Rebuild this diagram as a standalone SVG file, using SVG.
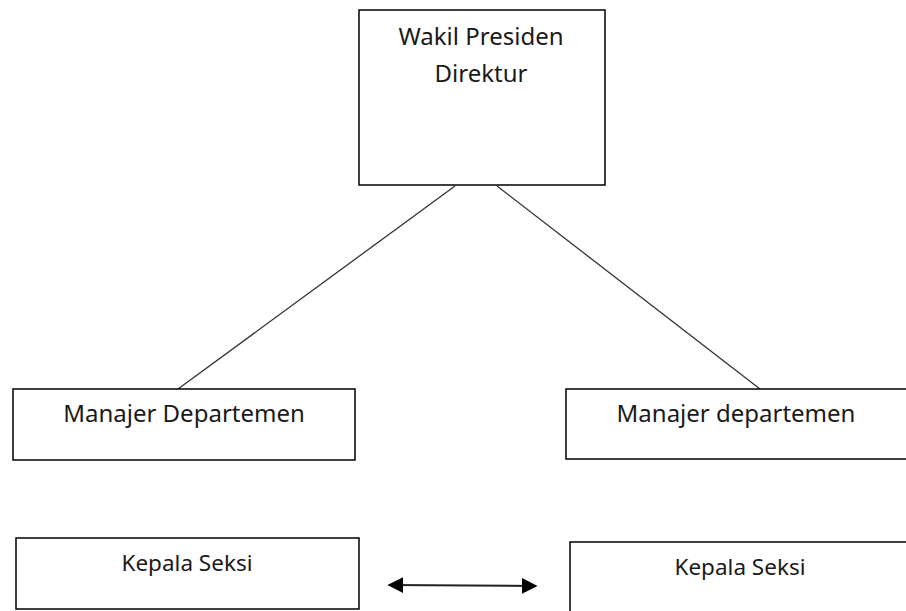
<svg xmlns="http://www.w3.org/2000/svg" width="906" height="611" viewBox="0 0 906 611">
  <defs>
    <style>
      .box { fill: #ffffff; stroke: #000000; stroke-width: 1.5; }
      .link { stroke: #333333; stroke-width: 1.3; fill: none; }
      .link.both { stroke: #222222; stroke-width: 2; }
      .lbl { font-family: "Noto Sans", "Open Sans", sans-serif; font-size: 24px; fill: #1a1a1a; text-anchor: middle; }
      .lbl-s { font-size: 22.5px; }
    </style>
    <marker id="head" viewBox="0 0 10 10" refX="9" refY="5" markerWidth="16" markerHeight="17" markerUnits="userSpaceOnUse" orient="auto-start-reverse">
      <path d="M0,0 L10,5 L0,10 Z" fill="#000000"/>
    </marker>
  </defs>

  <rect width="906" height="611" fill="#ffffff"/>

  <!-- connectors -->
  <g id="connectors">
    <line class="link" x1="455" y1="186" x2="178" y2="389"/>
    <line class="link" x1="497" y1="186" x2="760" y2="389"/>
    <line class="link both" x1="389" y1="585" x2="536" y2="586" marker-start="url(#head)" marker-end="url(#head)"/>
  </g>

  <g id="wakil-presiden">
    <rect class="box" x="359" y="10" width="246" height="175"/>
    <text class="lbl" x="481" y="45">Wakil Presiden</text>
    <text class="lbl" x="481" y="82">Direktur</text>
  </g>

  <g id="manajer-kiri">
    <rect class="box" x="13" y="389" width="342" height="71"/>
    <text class="lbl" x="184" y="422">Manajer Departemen</text>
  </g>

  <g id="manajer-kanan">
    <rect class="box" x="566" y="389" width="342" height="70"/>
    <text class="lbl" x="736" y="422">Manajer departemen</text>
  </g>

  <g id="kepala-kiri">
    <rect class="box" x="16" y="538" width="343" height="71"/>
    <text class="lbl lbl-s" x="187" y="571">Kepala Seksi</text>
  </g>

  <g id="kepala-kanan">
    <rect class="box" x="570" y="542" width="340" height="75"/>
    <text class="lbl lbl-s" x="740" y="575">Kepala Seksi</text>
  </g>
</svg>
